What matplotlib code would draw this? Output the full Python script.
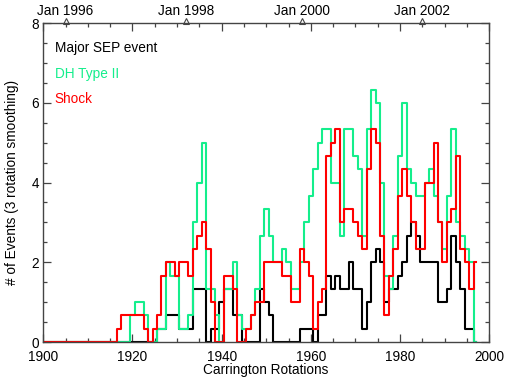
import matplotlib
matplotlib.use("Agg")
import matplotlib.pyplot as plt
from matplotlib.ticker import MultipleLocator

plt.rcParams["font.family"] = ["Liberation Sans", "DejaVu Sans"]

# Carrington rotation numbers, one value per rotation
rotations = list(range(1900, 1998))

# event counts summed over a 3-rotation window (divided by 3 when drawn)
sep_sum3 = [
    0, 0, 0, 0, 0, 0, 0, 0, 0, 0,
    0, 0, 0, 0, 0, 0, 0, 0, 0, 0,
    0, 0, 0, 0, 0, 0, 1, 1, 2, 2,
    2, 1, 1, 1, 4, 4, 4, 0, 1, 1,
    3, 4, 4, 2, 2, 0, 0, 0, 0, 4,
    3, 2, 0, 0, 0, 0, 0, 0, 1, 1,
    1, 0, 2, 2, 5, 4, 5, 4, 4, 6,
    4, 4, 1, 3, 6, 7, 6, 3, 4, 4,
    5, 6, 8, 9, 8, 6, 6, 6, 6, 3,
    3, 4, 8, 6, 4, 1, 1, 0,
]
dh_sum3 = [
    0, 0, 0, 0, 0, 0, 0, 0, 0, 0,
    0, 0, 0, 0, 0, 0, 0, 0, 0, 0,
    2, 3, 3, 2, 0, 0, 1, 1, 6, 5,
    5, 1, 1, 2, 9, 12, 15, 4, 4, 2,
    0, 4, 4, 6, 2, 1, 1, 2, 4, 8,
    10, 8, 6, 6, 7, 6, 4, 4, 6, 9,
    11, 13, 15, 16, 16, 12, 12, 8, 16, 16,
    14, 13, 8, 16, 19, 18, 12, 5, 4, 8,
    14, 18, 13, 12, 11, 11, 12, 13, 11, 9,
    7, 11, 16, 9, 8, 7, 6, 0,
]
shock_sum3 = [
    0, 0, 0, 0, 0, 0, 0, 0, 0, 0,
    0, 0, 0, 0, 0, 0, 0, 1, 2, 2,
    2, 2, 2, 1, 0, 1, 2, 5, 6, 6,
    5, 6, 6, 5, 7, 8, 9, 7, 3, 0,
    0, 5, 5, 4, 0, 0, 1, 2, 3, 3,
    6, 6, 6, 6, 5, 5, 3, 3, 7, 6,
    5, 1, 3, 4, 14, 15, 16, 9, 10, 10,
    9, 8, 7, 13, 16, 15, 8, 2, 5, 7,
    11, 13, 11, 9, 7, 7, 12, 12, 15, 9,
    6, 9, 10, 14, 7, 6, 4, 6,
]

# calendar markers on the top axis (rotation number, label)
date_rot = [1905.0, 1932.0, 1957.9, 1985.0]
date_lab = ["Jan 1996", "Jan 1998", "Jan 2000", "Jan 2002"]

GREEN = "#14ee8c"
FS = 9.8

fig = plt.figure(figsize=(5.06, 3.77), dpi=100)
ax = fig.add_axes([0.0855, 0.0928, 0.8815, 0.846])

series = [
    (sep_sum3, "black", "Major SEP event"),
    (dh_sum3, GREEN, "DH Type II"),
    (shock_sum3, "red", "Shock"),
]
for vals, col, _ in series:
    ax.step(rotations, [v / 3 for v in vals], where="mid", color=col, lw=1.5)

ax.set_xlim(1900, 2000)
ax.set_ylim(0, 8)
ax.xaxis.set_major_locator(MultipleLocator(20))
ax.xaxis.set_minor_locator(MultipleLocator(5))
ax.yaxis.set_major_locator(MultipleLocator(2))
ax.yaxis.set_minor_locator(MultipleLocator(0.5))
ax.tick_params(which="both", direction="in", top=True, right=True,
               colors="#444444", labelcolor="black", labelsize=FS, width=0.9)
ax.tick_params(which="major", length=6)
ax.tick_params(which="minor", length=3)
ax.tick_params(axis="x", pad=6)
ax.tick_params(axis="y", pad=3)
for sp in ax.spines.values():
    sp.set_color("#444444")
    sp.set_linewidth(1.0)

# date markers above the top axis
for r, lab in zip(date_rot, date_lab):
    ax.plot(r, 1.008, marker="^", ms=4.5, mfc="white", mec="#444444", mew=0.8,
            transform=ax.get_xaxis_transform(), clip_on=False)
    ax.text(r, 1.039, lab, transform=ax.get_xaxis_transform(),
            ha="center", va="center", fontsize=FS)

for (vals, col, lab), y in zip(series, [0.922, 0.840, 0.762]):
    ax.text(0.026, y, lab, color=col, transform=ax.transAxes,
            ha="left", va="center", fontsize=FS)

fig.text(0.525, 0.019, "Carrington Rotations", ha="center", va="center", fontsize=FS)
fig.text(0.024, 0.515, "# of Events (3 rotation smoothing)", rotation=90,
         ha="center", va="center", fontsize=FS)

fig.savefig("out.png", dpi=100)
